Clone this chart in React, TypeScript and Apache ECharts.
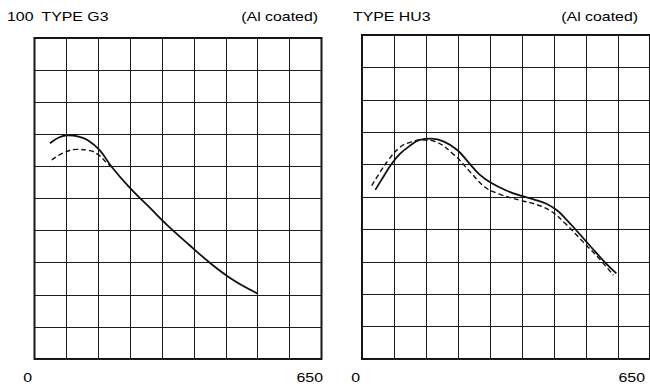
import React, { useEffect, useRef } from 'react';
import * as echarts from 'echarts';

// Axis / label texts
const xTickLabels = ['0', '650'];
const yTopLabel = '100';
const panelTitles = ['TYPE G3', 'TYPE HU3'];
const coatingLabel = '(Al coated)';

// Axis ranges
const xMin = 0;
const xMax = 650;
const xDivisions = 9;
const yMin = 0;
const yMax = 100;
const yInterval = 10;

// TYPE G3 curves
const g3SolidX = [35, 55, 76, 100, 120, 148, 175, 216, 260, 300, 350, 397, 450, 505];
const g3SolidY = [67.2, 69.0, 69.7, 69.3, 68.2, 65.0, 59.8, 53.3, 47.3, 41.8, 35.6, 30.0, 24.6, 20.4];
const g3DashX = [39, 65, 95, 126, 145, 160, 175];
const g3DashY = [62.0, 64.2, 65.3, 64.9, 63.6, 61.6, 59.8];

// TYPE HU3 curves
const hu3SolidX = [30, 48, 65, 85, 107, 130, 157, 185, 215, 241, 265, 292, 326, 356, 389, 415, 440, 463, 485, 522, 550, 574];
const hu3SolidY = [52.2, 56.2, 59.9, 63.2, 65.7, 67.6, 68.0, 67.1, 64.5, 60.6, 57.0, 54.3, 52.0, 50.5, 49.2, 48.0, 45.9, 42.8, 39.5, 33.8, 29.6, 26.4];
const hu3DashX = [22, 40, 60, 85, 107, 135, 163, 208, 245, 278, 310, 356, 389, 426, 459, 500, 534, 567];
const hu3DashY = [53.5, 57.5, 61.5, 65.3, 66.8, 67.6, 67.2, 63.0, 57.6, 53.0, 50.9, 49.0, 47.9, 45.7, 41.8, 36.0, 31.2, 25.9];

const zip = (xs: number[], ys: number[]) => xs.map((x, i) => [x, ys[i]]);

const INK = '#111';
const FONT = '13px "Liberation Sans", Arial, sans-serif';

export default function App() {
  const ref = useRef<HTMLDivElement>(null);

  useEffect(() => {
    if (!ref.current) return;
    const chart = echarts.init(ref.current, undefined, { renderer: 'svg' });

    const grids = [
      { left: 34.5, top: 38, width: 287, height: 321 },
      { left: 362, top: 35, width: 292, height: 324 },
    ];

    const makeX = (gi: number) => ({
      gridIndex: gi,
      type: 'value',
      min: xMin,
      max: xMax,
      interval: (xMax - xMin) / xDivisions,
      axisLine: { show: false },
      axisTick: { show: false },
      axisLabel: { show: false },
      splitLine: { show: true, lineStyle: { color: '#1a1a1a', width: 1 } },
    });
    const makeY = (gi: number) => ({
      gridIndex: gi,
      type: 'value',
      min: yMin,
      max: yMax,
      interval: yInterval,
      axisLine: { show: false },
      axisTick: { show: false },
      axisLabel: { show: false },
      splitLine: { show: true, lineStyle: { color: '#1a1a1a', width: 1 } },
    });

    const solid = (gi: number, data: number[][]) => ({
      type: 'line',
      xAxisIndex: gi,
      yAxisIndex: gi,
      data,
      smooth: 0.4,
      showSymbol: false,
      symbol: 'none',
      lineStyle: { color: INK, width: 1.8, type: 'solid' },
      z: 5,
    });
    const dashed = (gi: number, data: number[][]) => ({
      type: 'line',
      xAxisIndex: gi,
      yAxisIndex: gi,
      data,
      smooth: 0.4,
      showSymbol: false,
      symbol: 'none',
      lineStyle: { color: INK, width: 1.4, type: [5, 3] },
      z: 4,
    });

    const txt = (text: string, x: number, y: number, align: string) => ({
      type: 'text',
      x,
      y,
      scaleX: 1.22,
      style: { text, font: FONT, fill: '#000', align, verticalAlign: 'middle' },
      z: 10,
    });

    chart.setOption({
      animation: false,
      backgroundColor: '#fff',
      grid: grids.map((g) => ({
        ...g,
        show: true,
        borderColor: INK,
        borderWidth: 2,
        backgroundColor: 'transparent',
        containLabel: false,
      })),
      xAxis: [makeX(0), makeX(1)],
      yAxis: [makeY(0), makeY(1)],
      series: [
        solid(0, zip(g3SolidX, g3SolidY)),
        dashed(0, zip(g3DashX, g3DashY)),
        solid(1, zip(hu3SolidX, hu3SolidY)),
        dashed(1, zip(hu3DashX, hu3DashY)),
      ],
      graphic: [
        txt(yTopLabel, 7, 17, 'left'),
        txt(panelTitles[0], 41.5, 17, 'left'),
        txt(coatingLabel, 318, 17, 'right'),
        txt(panelTitles[1], 353, 17, 'left'),
        txt(coatingLabel, 638, 17, 'right'),
        txt(xTickLabels[0], 32, 378, 'right'),
        txt(xTickLabels[1], 323, 378, 'right'),
        txt(xTickLabels[0], 360, 378, 'right'),
        txt(xTickLabels[1], 645, 378, 'right'),
      ],
    });

    return () => chart.dispose();
  }, []);

  return (
    <div
      ref={ref}
      style={{ position: 'absolute', left: 0, top: 0, width: 650, height: 390 }}
    />
  );
}
